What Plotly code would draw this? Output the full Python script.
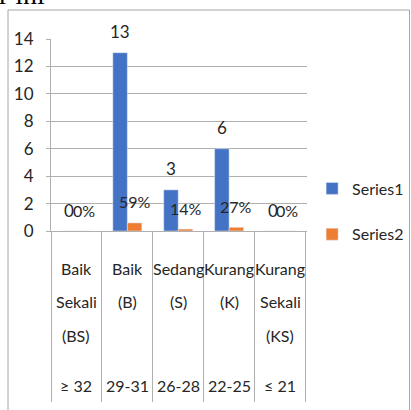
import plotly.graph_objects as go

# ---- data ----
categories = ["BS", "B", "S", "K", "KS"]
category_lines = [
    ["Baik", "Sekali", "(BS)"],
    ["Baik", "(B)"],
    ["Sedang", "(S)"],
    ["Kurang", "(K)"],
    ["Kurang", "Sekali", "(KS)"],
]
score_ranges = ["≥ 32", "29-31", "26-28", "22-25", "≤ 21"]
series1 = [0, 13, 3, 6, 0]
series2 = [0, 0.59, 0.14, 0.27, 0]
series1_labels = ["0", "13", "3", "6", "0"]
series2_labels = ["0%", "59%", "14%", "27%", "0%"]
y_ticks = [0, 2, 4, 6, 8, 10, 12, 14]

FONT = "Lato, Roboto, sans-serif"
FS = 16
TXT = "#262626"
BLUE = "#4472C4"
ORANGE = "#ED7D31"
GRID = "#b0b0b0"

W, H = 411, 410
L, R, T, B = 51, 104, 39, 179

fig = go.Figure()
fig.add_trace(go.Bar(x=categories, y=series1, name="Series1", marker_color=BLUE,
                     legendgroup="a"))
fig.add_trace(go.Bar(x=categories, y=series2, name="Series2", marker_color=ORANGE,
                     legendgroup="b"))

annotations = []
# data labels
for c, v, t in zip(categories, series1, series1_labels):
    annotations.append(dict(x=c, y=v, xref="x", yref="y", text=t, showarrow=False,
                            xshift=-7.3, yshift=21, font=dict(size=FS + 1, color=TXT)))
for c, v, t in zip(categories, series2, series2_labels):
    annotations.append(dict(x=c, y=v, xref="x", yref="y", text=t, showarrow=False,
                            xshift=7.3, yshift=21, font=dict(size=FS, color=TXT)))
# category labels (multi-row)
row_shifts = [-37, -70, -104]
for c, lines in zip(categories, category_lines):
    for i, ln in enumerate(lines):
        annotations.append(dict(x=c, y=0, xref="x", yref="paper", text=ln, showarrow=False,
                                yshift=row_shifts[i], yanchor="middle",
                                font=dict(size=FS, color=TXT)))
for c, r in zip(categories, score_ranges):
    annotations.append(dict(x=c, y=0, xref="x", yref="paper", text=r, showarrow=False,
                            yshift=-154, yanchor="middle", font=dict(size=FS, color=TXT)))
# cropped heading text at top
annotations.append(dict(x=0.0, y=1.0, xref="paper", yref="paper", text="r ini",
                        showarrow=False, xanchor="right", yanchor="bottom",
                        xshift=-4, yshift=27,
                        font=dict(family="Liberation Serif, serif", size=28, color="black")))
fig.update_layout(annotations=annotations)

px_w = W - L - R
px_h = H - T - B
fig.add_shape(type="rect", xref="paper", yref="paper",
              x0=(8 - L) / px_w, x1=(409.5 - L) / px_w,
              y0=-(412 - T - px_h) / px_h, y1=(px_h + T - 10) / px_h,
              line=dict(color="#a6a6a6", width=1), fillcolor="rgba(0,0,0,0)", layer="above")

fig.update_layout(
    width=W, height=H,
    margin=dict(l=L, r=R, t=T, b=B, pad=0, autoexpand=False),
    paper_bgcolor="white", plot_bgcolor="white",
    font=dict(family=FONT, size=FS, color=TXT),
    barmode="group", bargap=0.43, bargroupgap=0,
    showlegend=True,
    legend=dict(x=1.02, y=0.31, xanchor="left", yanchor="top",
                traceorder="grouped", tracegroupgap=22,
                font=dict(size=FS, color=TXT),
                itemwidth=30, bgcolor="rgba(0,0,0,0)"),
    xaxis=dict(type="category", showgrid=False, showticklabels=False,
               ticks="outside", tickson="boundaries", ticklen=170,
               tickcolor=GRID, tickwidth=1, automargin=False,
               showline=True, linecolor=GRID, linewidth=1),
    yaxis=dict(range=[0, 14], tickvals=y_ticks, showgrid=True, gridcolor=GRID,
               gridwidth=1, zeroline=False, ticks="outside", ticklen=4,
               tickcolor=GRID, showline=True, linecolor=GRID, automargin=False,
               ticklabelstandoff=9, tickfont=dict(size=FS + 1, color=TXT)),
)

fig.write_html("out.html", config={"displayModeBar": False},
               post_script="document.body.style.margin='0';")
